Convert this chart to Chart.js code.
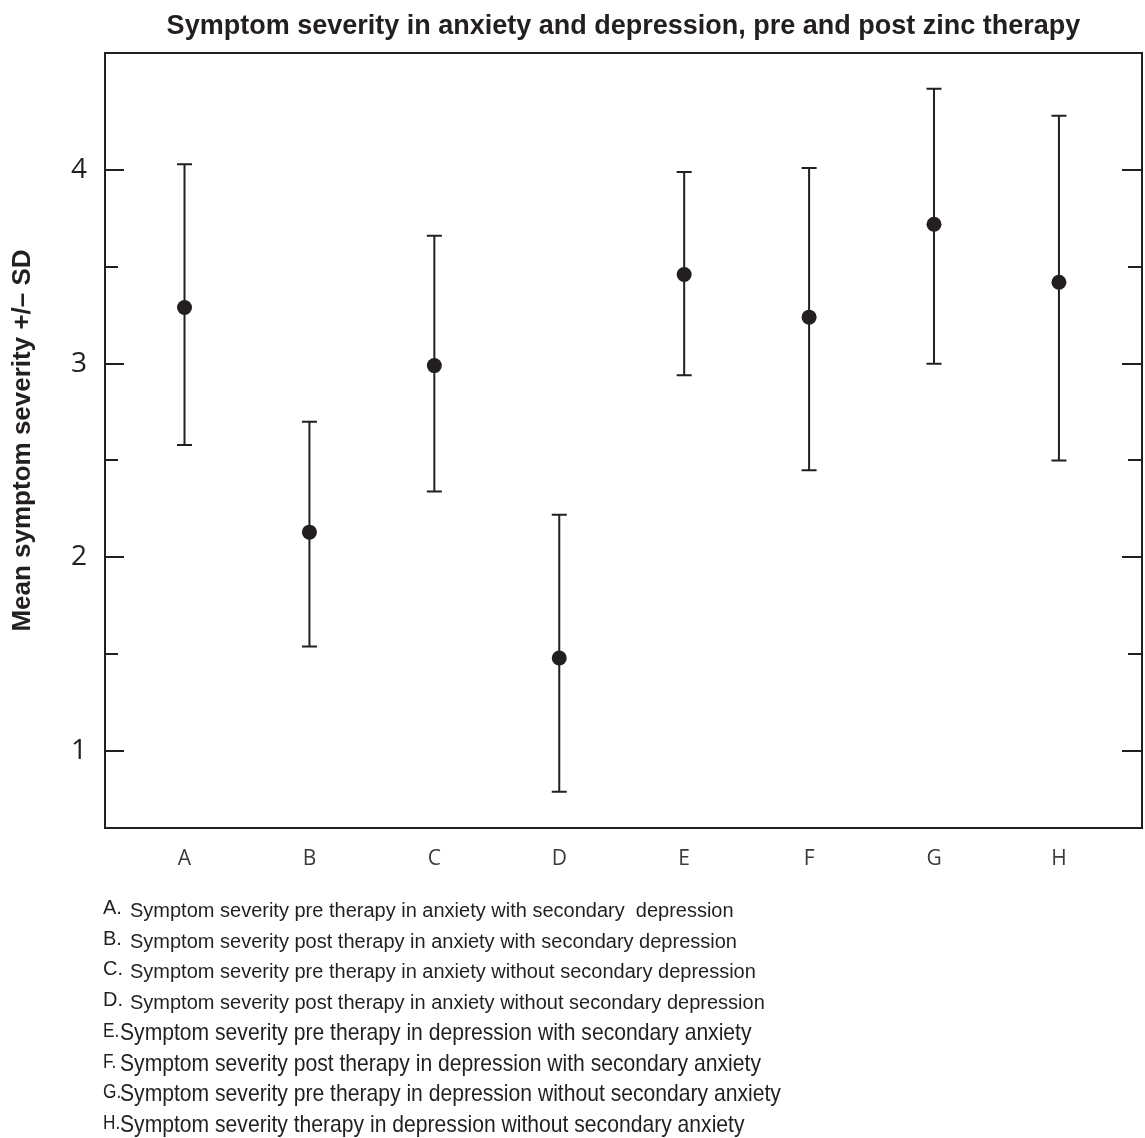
<!DOCTYPE html>
<html>
<head>
<meta charset="utf-8">
<title>Symptom severity</title>
<script src="https://cdn.jsdelivr.net/npm/chart.js@4.4.1/dist/chart.umd.min.js"></script>
<style>
  html, body { margin: 0; padding: 0; background: #fff; }
  canvas { display: block; }
</style>
</head>
<body>
<canvas id="severityChart" width="1145" height="1138"></canvas>
<script>
// group letters, mean severity and the +/- SD bounds for each group
const groups = ['A', 'B', 'C', 'D', 'E', 'F', 'G', 'H'];
const means = [3.29, 2.13, 2.99, 1.48, 3.46, 3.24, 3.72, 3.42];
const upper = [4.03, 2.70, 3.66, 2.22, 3.99, 4.01, 4.42, 4.28];
const lower = [2.58, 1.54, 2.34, 0.79, 2.94, 2.45, 3.00, 2.50];
const yTicks = [1, 1.5, 2, 2.5, 3, 3.5, 4];

const notes = [
    'Symptom severity pre therapy in anxiety with secondary  depression',
    'Symptom severity post therapy in anxiety with secondary depression',
    'Symptom severity pre therapy in anxiety without secondary depression',
    'Symptom severity post therapy in anxiety without secondary depression',
    'Symptom severity pre therapy in depression with secondary anxiety',
    'Symptom severity post therapy in depression with secondary anxiety',
    'Symptom severity pre therapy in depression without secondary anxiety',
    'Symptom severity therapy in depression without secondary anxiety'
];

const ink = '#231f20';

// error bars, box frame and inward tick marks
const errorBars = {
    id: 'errorBars',
    beforeDatasetsDraw(chart) {
        const { ctx, chartArea: a, scales: { x, y } } = chart;
        ctx.save();
        ctx.strokeStyle = ink;
        ctx.lineWidth = 2;

        groups.forEach((g, i) => {
            const px = x.getPixelForValue(i + 1);
            const top = y.getPixelForValue(upper[i]);
            const bot = y.getPixelForValue(lower[i]);
            ctx.beginPath();
            ctx.moveTo(px, top);
            ctx.lineTo(px, bot);
            ctx.moveTo(px - 7.5, top);
            ctx.lineTo(px + 7.5, top);
            ctx.moveTo(px - 7.5, bot);
            ctx.lineTo(px + 7.5, bot);
            ctx.stroke();
        });

        ctx.strokeRect(a.left, a.top, a.right - a.left, a.bottom - a.top);

        yTicks.forEach(v => {
            const py = Math.round(y.getPixelForValue(v));
            const major = Number.isInteger(v);
            ctx.beginPath();
            ctx.moveTo(a.left, py);
            ctx.lineTo(a.left + (major ? 19 : 13), py);
            ctx.moveTo(a.right, py);
            ctx.lineTo(a.right - (major ? 20 : 14), py);
            ctx.stroke();
        });
        ctx.restore();
    },
    // key to the group letters under the chart
    afterDraw(chart) {
        const ctx = chart.ctx;
        ctx.save();
        ctx.fillStyle = ink;
        ctx.textBaseline = 'alphabetic';
        notes.forEach((text, i) => {
            const base = 917 + i * 30.7;
            if (i < 4) {
                ctx.font = '20px "Liberation Sans", Arial, sans-serif';
                ctx.fillText(groups[i] + '.', 103, base - 3);
                ctx.fillText(text, 130, base);
            } else {
                // the last four lines are set in a condensed face
                ctx.translate(103, base);
                ctx.scale(0.86, 1);
                ctx.font = '20px "Liberation Sans", Arial, sans-serif';
                ctx.fillText(groups[i] + '.', 0, -3);
                ctx.setTransform(1, 0, 0, 1, 0, 0);
                ctx.translate(120, base);
                ctx.scale(0.88, 1);
                ctx.font = '24px "Liberation Sans", Arial, sans-serif';
                ctx.fillText(text, 0, 0);
                ctx.setTransform(1, 0, 0, 1, 0, 0);
            }
        });
        ctx.restore();
    }
};

const ctx = document.getElementById('severityChart').getContext('2d');

new Chart(ctx, {
    type: 'scatter',
    data: {
        datasets: [{
            data: means.map((m, i) => ({ x: i + 1, y: m })),
            pointRadius: 7.5,
            pointBackgroundColor: ink,
            pointBorderWidth: 0
        }]
    },
    options: {
        responsive: false,
        animation: false,
        layout: {
            autoPadding: false,
            padding: { left: 0, right: 3, top: 0, bottom: 260 }
        },
        plugins: {
            legend: { display: false },
            tooltip: { enabled: false },
            title: {
                display: true,
                fullSize: false,
                text: 'Symptom severity in anxiety and depression, pre and post zinc therapy',
                color: ink,
                font: { family: '"Liberation Sans", Arial, sans-serif', size: 27, weight: 'bold' },
                padding: { top: 10, bottom: 10.6 }
            }
        },
        scales: {
            x: {
                type: 'linear',
                min: 0.3635,
                max: 8.665,
                afterBuildTicks: scale => {
                    scale.ticks = groups.map((g, i) => ({ value: i + 1 }));
                },
                afterFit: scale => { scale.height = 50; },
                ticks: {
                    callback: v => groups[v - 1],
                    color: '#3a3a3a',
                    font: { family: '"Open Sans", sans-serif', size: 21 },
                    padding: 18,
                    maxRotation: 0
                },
                grid: { display: false, drawTicks: false },
                border: { display: false }
            },
            y: {
                min: 0.6024,
                max: 4.604,
                afterBuildTicks: scale => {
                    scale.ticks = yTicks.map(v => ({ value: v }));
                },
                afterFit: scale => { scale.width = 105; },
                ticks: {
                    callback: v => Number.isInteger(v) ? v : '',
                    color: ink,
                    font: { family: '"Open Sans", sans-serif', size: 28 },
                    padding: 18
                },
                grid: { display: false, drawTicks: false },
                border: { display: false },
                title: {
                    display: true,
                    text: 'Mean symptom severity +/\u2013 SD',
                    color: ink,
                    font: { family: '"Liberation Sans", Arial, sans-serif', size: 26, weight: 'bold' },
                    padding: { top: 7, bottom: 0 }
                }
            }
        }
    },
    plugins: [errorBars]
});
</script>
</body>
</html>
